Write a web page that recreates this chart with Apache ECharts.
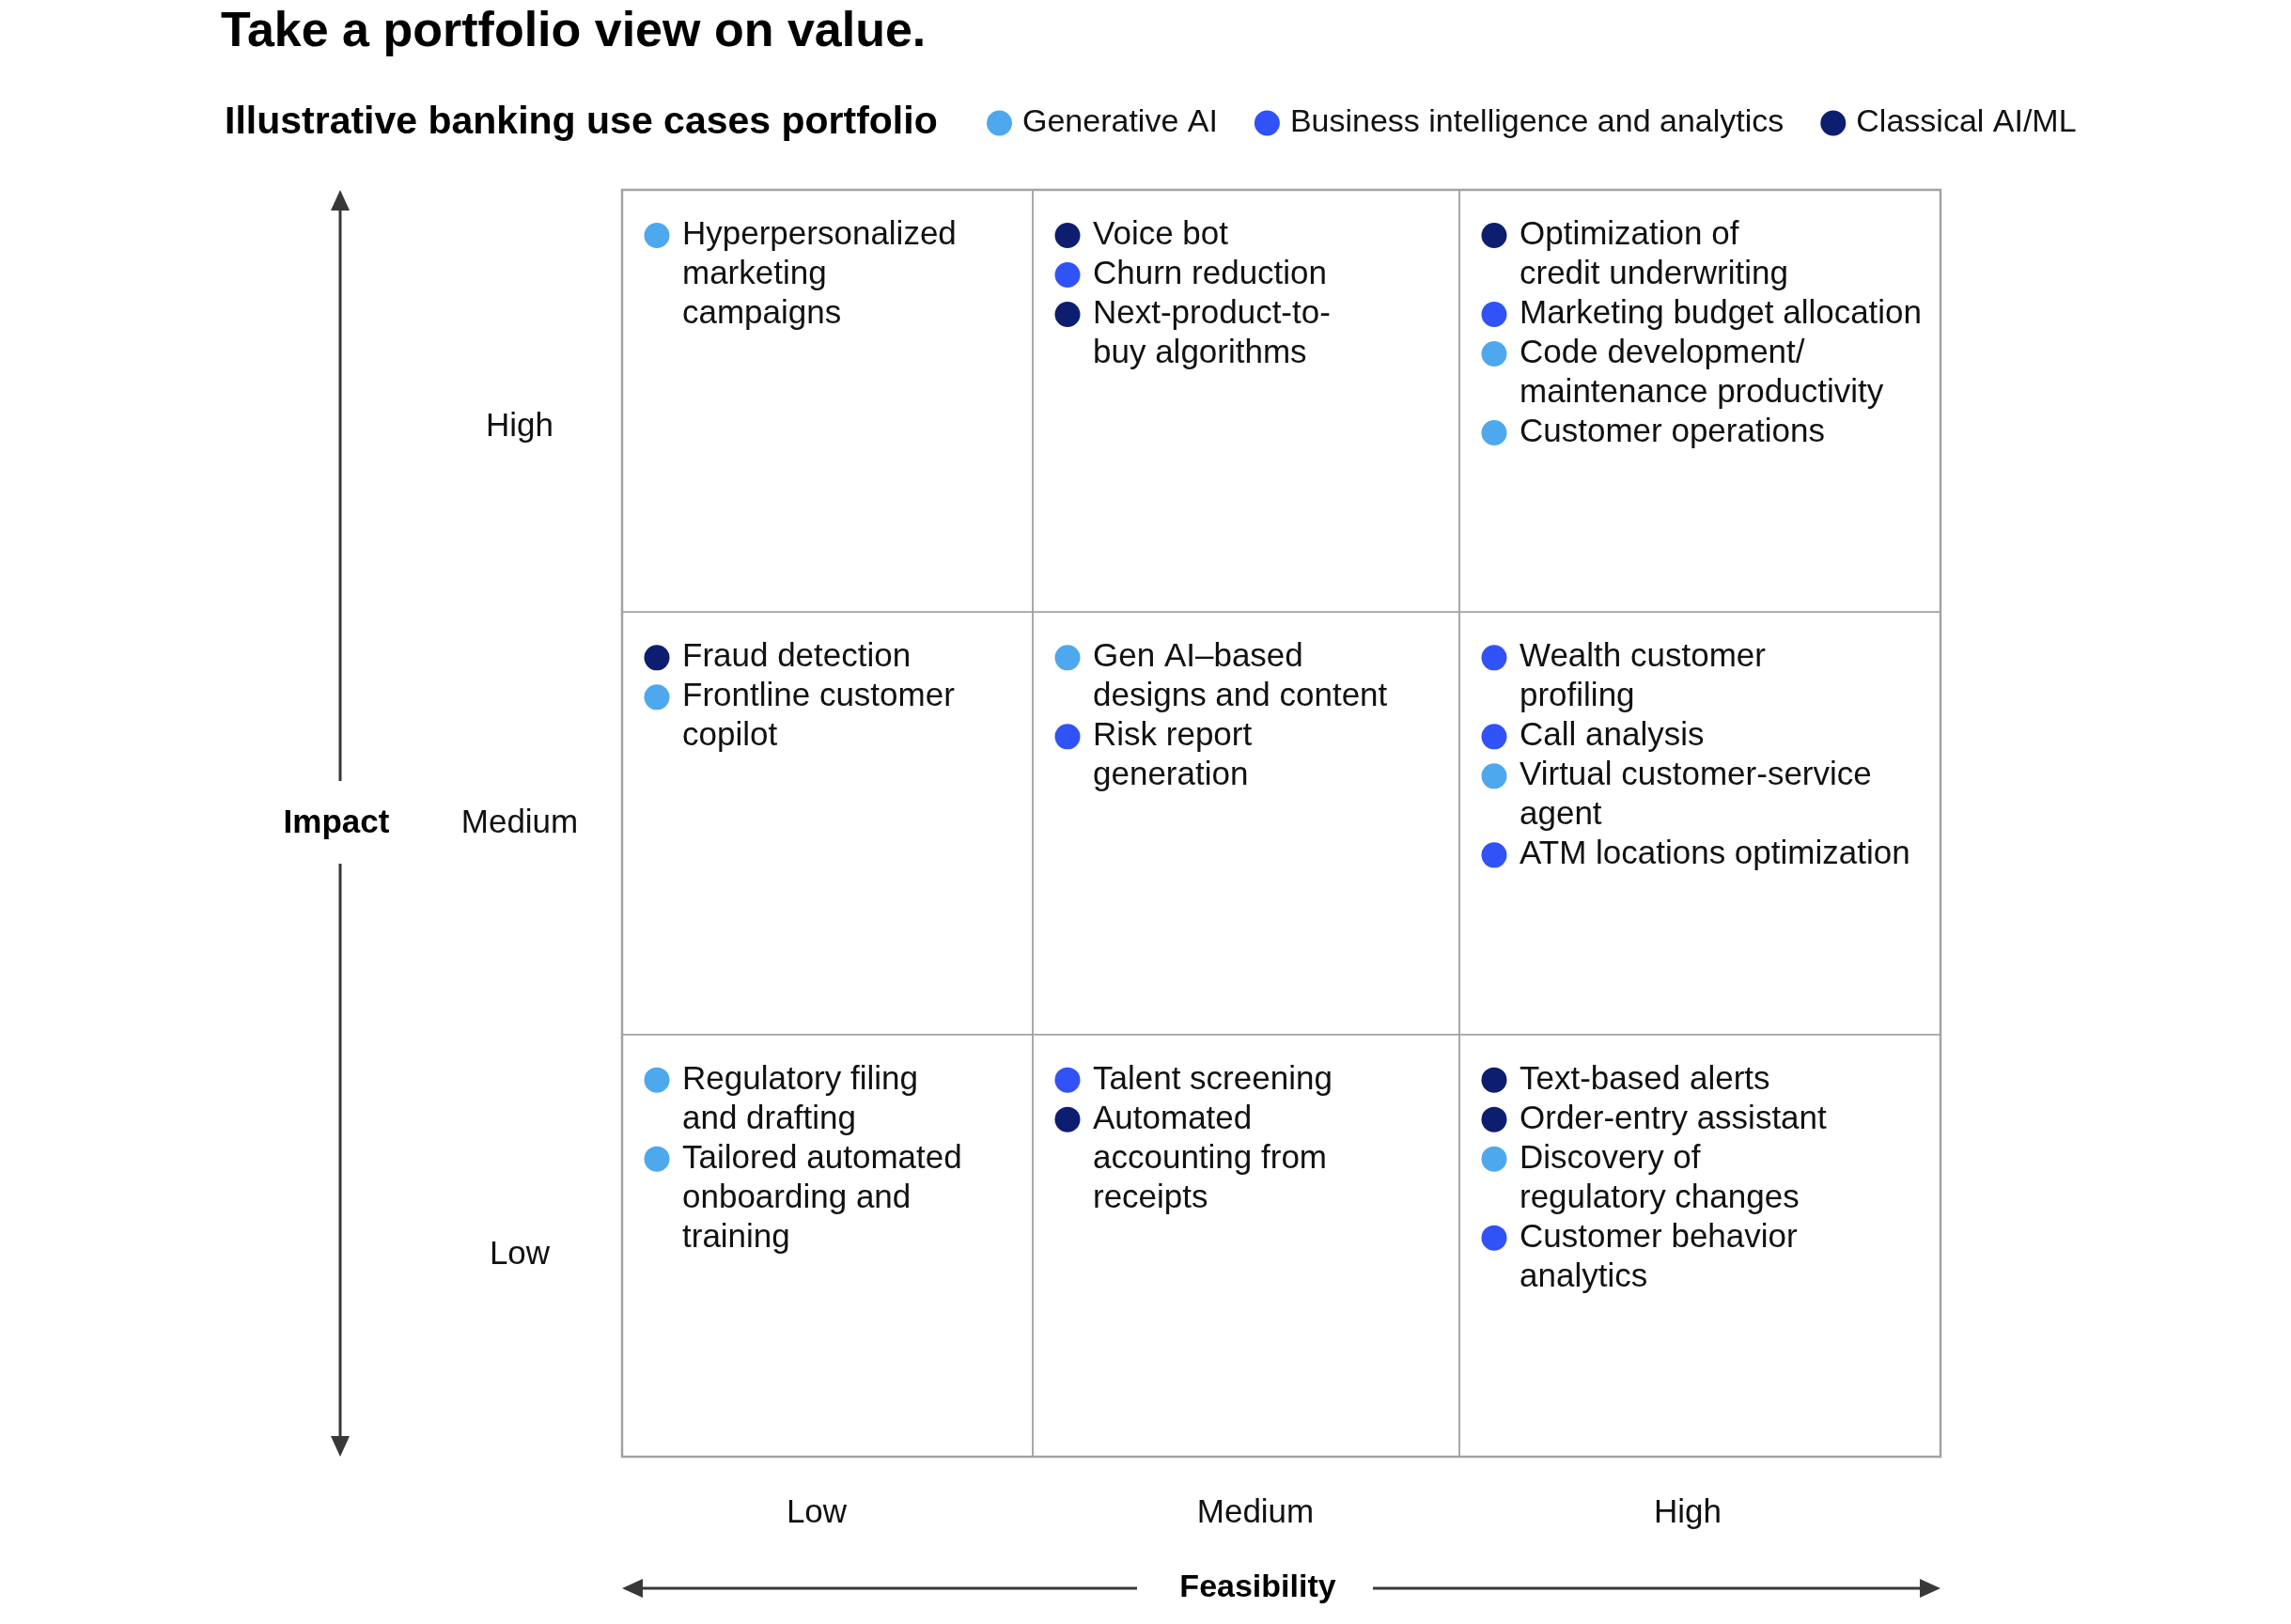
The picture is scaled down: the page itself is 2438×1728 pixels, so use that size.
<!DOCTYPE html>
<html>
<head>
<meta charset="utf-8">
<title>Take a portfolio view on value.</title>
<script src="https://cdn.jsdelivr.net/npm/echarts@6/dist/echarts.min.js"></script>
<style>
  html, body { margin: 0; padding: 0; background: #fff; }
  #chart { width: 2438px; height: 1728px; }
</style>
</head>
<body>
<div id="chart"></div>
<script>
// categories
const impactLevels = ['Low', 'Medium', 'High'];
const feasibilityLevels = ['Low', 'Medium', 'High'];
const typeNames = ['Generative AI', 'Business intelligence and analytics', 'Classical AI/ML'];

// use cases: [feasibility, impact, type index, label]
const useCases = [
  ['Low', 'High', 0, 'Hyperpersonalized\nmarketing\ncampaigns'],
  ['Medium', 'High', 2, 'Voice bot'],
  ['Medium', 'High', 1, 'Churn reduction'],
  ['Medium', 'High', 2, 'Next-product-to-\nbuy algorithms'],
  ['High', 'High', 2, 'Optimization of\ncredit underwriting'],
  ['High', 'High', 1, 'Marketing budget allocation'],
  ['High', 'High', 0, 'Code development/\nmaintenance productivity'],
  ['High', 'High', 0, 'Customer operations'],
  ['Low', 'Medium', 2, 'Fraud detection'],
  ['Low', 'Medium', 0, 'Frontline customer\ncopilot'],
  ['Medium', 'Medium', 0, 'Gen AI\u2013based\ndesigns and content'],
  ['Medium', 'Medium', 1, 'Risk report\ngeneration'],
  ['High', 'Medium', 1, 'Wealth customer\nprofiling'],
  ['High', 'Medium', 1, 'Call analysis'],
  ['High', 'Medium', 0, 'Virtual customer-service\nagent'],
  ['High', 'Medium', 1, 'ATM locations optimization'],
  ['Low', 'Low', 0, 'Regulatory filing\nand drafting'],
  ['Low', 'Low', 0, 'Tailored automated\nonboarding and\ntraining'],
  ['Medium', 'Low', 1, 'Talent screening'],
  ['Medium', 'Low', 2, 'Automated\naccounting from\nreceipts'],
  ['High', 'Low', 2, 'Text-based alerts'],
  ['High', 'Low', 2, 'Order-entry assistant'],
  ['High', 'Low', 0, 'Discovery of\nregulatory changes'],
  ['High', 'Low', 1, 'Customer behavior\nanalytics']
];

// layout: column edges on the feasibility axis (columns are not equal width)
// and where the column names sit along it
const colEdges = [0, 437, 891, 1403];
const colLabelAt = [207, 674, 1134];
const typeColors = ['#4da8ee', '#3052f6', '#0d1e70'];
const FONT = "'Liberation Sans', Arial, sans-serif";
const LINE_H = 42;

// work out on which text line each use case starts inside its cell
const linesUsed = {};
const placed = useCases.map(u => {
  const col = feasibilityLevels.indexOf(u[0]);
  const row = impactLevels.indexOf(u[1]);
  const key = col + '_' + row;
  const start = linesUsed[key] || 0;
  linesUsed[key] = start + u[3].split('\n').length;
  return { col: col, row: row, line: start, type: u[2], text: u[3] };
});

const cells = [];
feasibilityLevels.forEach((f, c) => {
  impactLevels.forEach((im, r) => {
    cells.push([colEdges[c], colEdges[c + 1], r]);
  });
});

function renderCell(params, api) {
  const p0 = api.coord([api.value(0), api.value(2)]);
  const p1 = api.coord([api.value(1), api.value(2)]);
  const h = api.size([0, 1])[1];
  return {
    type: 'rect',
    shape: { x: p0[0], y: p0[1] - h / 2, width: p1[0] - p0[0], height: h },
    style: { fill: 'none', stroke: '#a3a3a3', lineWidth: 1.5 }
  };
}

function makeCaseSeries(t) {
  const items = placed.filter(p => p.type === t);
  return {
    name: typeNames[t],
    type: 'custom',
    coordinateSystem: 'cartesian2d',
    clip: false,
    itemStyle: { color: typeColors[t] },
    encode: { x: 0, y: 1 },
    data: items.map(p => [colEdges[p.col], p.row, p.line]),
    renderItem: function (params, api) {
      const it = items[params.dataIndex];
      const pt = api.coord([api.value(0), api.value(1)]);
      const h = api.size([0, 1])[1];
      const cellTop = pt[1] - h / 2;
      const cy = cellTop + 48.5 + LINE_H * it.line;
      return {
        type: 'group',
        children: [
          {
            type: 'circle',
            shape: { cx: pt[0] + 37, cy: cy, r: 13.5 },
            style: { fill: typeColors[t] }
          },
          {
            type: 'text',
            style: {
              x: pt[0] + 64,
              y: cy - LINE_H / 2,
              text: it.text,
              font: '35px ' + FONT,
              lineHeight: LINE_H,
              fill: '#111',
              align: 'left',
              verticalAlign: 'top'
            }
          }
        ]
      };
    }
  };
}

const chart = echarts.init(document.getElementById('chart'));

const option = {
  backgroundColor: '#fff',
  animation: false,
  title: [
    {
      text: 'Take a portfolio view on value.',
      left: 230,
      top: 4,
      textStyle: { fontFamily: FONT, fontSize: 52, fontWeight: 'bold', color: '#000' }
    },
    {
      text: 'Illustrative banking use cases portfolio',
      left: 234,
      top: 105,
      textStyle: { fontFamily: FONT, fontSize: 41, fontWeight: 'bold', color: '#000' }
    }
  ],
  legend: {
    data: typeNames,
    left: 1045,
    top: 109,
    icon: 'circle',
    itemWidth: 27,
    itemHeight: 27,
    itemGap: 39,
    selectedMode: false,
    textStyle: { fontFamily: FONT, fontSize: 34, color: '#111', padding: [0, 0, 0, 6] }
  },
  grid: { left: 662, top: 202, right: 373, bottom: 178 },
  xAxis: {
    type: 'value',
    min: 0,
    max: colEdges[colEdges.length - 1],
    axisLine: { show: false },
    axisTick: { show: false },
    splitLine: { show: false },
    axisLabel: {
      customValues: colLabelAt,
      formatter: v => feasibilityLevels[colLabelAt.indexOf(v)] || '',
      margin: 43,
      fontFamily: FONT,
      fontSize: 35,
      color: '#111'
    },
    name: 'Feasibility',
    nameLocation: 'middle',
    nameGap: 140,
    nameTextStyle: {
      fontFamily: FONT, fontSize: 34, fontWeight: 'bold', color: '#000',
      align: 'center', verticalAlign: 'middle', padding: [0, 50, 0, 0]
    }
  },
  yAxis: {
    type: 'category',
    data: impactLevels,
    axisLine: { show: false },
    axisTick: { show: false },
    splitLine: { show: false },
    axisLabel: {
      margin: 109,
      align: 'center',
      fontFamily: FONT,
      fontSize: 35,
      color: '#111',
      formatter: v => '{' + v.toLowerCase() + '|' + v + '}',
      rich: {
        high: { fontFamily: FONT, fontSize: 35, color: '#111', padding: [56, 0, 0, 0] },
        medium: { fontFamily: FONT, fontSize: 35, color: '#111' },
        low: { fontFamily: FONT, fontSize: 35, color: '#111', padding: [21, 0, 0, 0] }
      }
    },
    name: 'Impact',
    nameLocation: 'middle',
    nameRotate: 0,
    nameGap: 304,
    nameTextStyle: {
      fontFamily: FONT, fontSize: 35, fontWeight: 'bold', color: '#000',
      align: 'center', verticalAlign: 'middle'
    }
  },
  series: [
    {
      name: 'cells',
      type: 'custom',
      coordinateSystem: 'cartesian2d',
      clip: false,
      silent: true,
      encode: { x: 0, y: 2 },
      data: cells,
      renderItem: renderCell
    },
    makeCaseSeries(0),
    makeCaseSeries(1),
    makeCaseSeries(2)
  ]
};

chart.setOption(option);

// frame and the two axis arrows, taken from the grid geometry
const pTL = chart.convertToPixel({ gridIndex: 0 }, [0, 2]);
const pBR = chart.convertToPixel({ gridIndex: 0 }, [colEdges[3], 0]);
const rowH = (pBR[1] - pTL[1]) / 2;
const gLeft = pTL[0], gRight = pBR[0];
const gTop = pTL[1] - rowH / 2, gBottom = pBR[1] + rowH / 2;
const midY = (gTop + gBottom) / 2;
const ax = gLeft - 300;
const ay = gBottom + 140;
const arrowColor = '#383838';
const head = 22, half = 10;

function seg(x1, y1, x2, y2) {
  return { type: 'line', shape: { x1: x1, y1: y1, x2: x2, y2: y2 }, style: { stroke: arrowColor, lineWidth: 3 } };
}
function tri(points) {
  return { type: 'polygon', shape: { points: points }, style: { fill: arrowColor } };
}

chart.setOption({
  graphic: [
    {
      type: 'rect',
      shape: { x: gLeft, y: gTop, width: gRight - gLeft, height: gBottom - gTop },
      style: { fill: 'none', stroke: '#a3a3a3', lineWidth: 2.5 },
      silent: true
    },
    seg(ax, gTop + head, ax, midY - 45),
    seg(ax, midY + 43, ax, gBottom - head),
    tri([[ax, gTop], [ax - half, gTop + head], [ax + half, gTop + head]]),
    tri([[ax, gBottom], [ax - half, gBottom - head], [ax + half, gBottom - head]]),
    seg(gLeft + head, ay, 1210, ay),
    seg(1461, ay, gRight - head, ay),
    tri([[gLeft, ay], [gLeft + head, ay - half], [gLeft + head, ay + half]]),
    tri([[gRight, ay], [gRight - head, ay - half], [gRight - head, ay + half]])
  ]
});
</script>
</body>
</html>
